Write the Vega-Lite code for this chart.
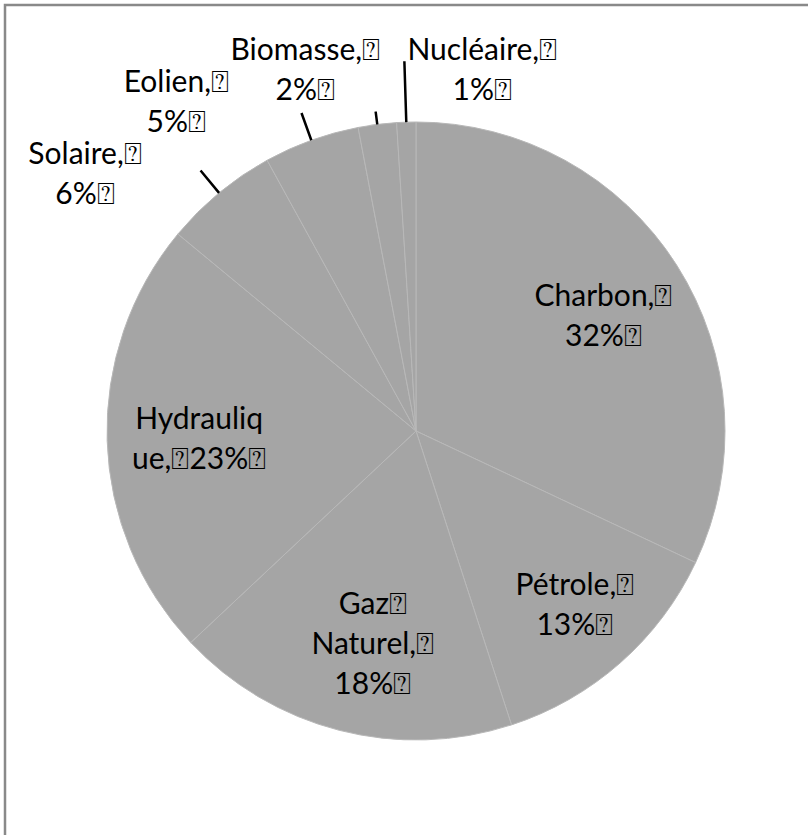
{
  "$schema": "https://vega.github.io/schema/vega-lite/v6.json",
  "width": 822,
  "height": 852,
  "padding": 5,
  "autosize": {"type": "none"},
  "background": "white",
  "config": {
    "view": {"stroke": null},
    "text": {"font": "Lato", "fontSize": 30, "lineHeight": 40, "lineBreak": "\n", "align": "center", "baseline": "middle", "color": "black"}
  },
  "datasets": {
    "energy": [
      {"idx": 1, "name": "Charbon", "label": "Charbon,⍰\n32%⍰", "value": 32},
      {"idx": 2, "name": "Pétrole", "label": "Pétrole,⍰\n13%⍰", "value": 13},
      {"idx": 3, "name": "Gaz Naturel", "label": "Gaz⍰\nNaturel,⍰\n18%⍰", "value": 18},
      {"idx": 4, "name": "Hydraulique", "label": "Hydrauliq\nue,⍰23%⍰", "value": 23},
      {"idx": 5, "name": "Solaire", "label": "Solaire,⍰\n6%⍰", "value": 6},
      {"idx": 6, "name": "Eolien", "label": "Eolien,⍰\n5%⍰", "value": 5},
      {"idx": 7, "name": "Biomasse", "label": "Biomasse,⍰\n2%⍰", "value": 2},
      {"idx": 8, "name": "Nucléaire", "label": "Nucléaire,⍰\n1%⍰", "value": 1}
    ],
    "frame": [{"frame": "border"}]
  },
  "data": {"name": "energy"},
  "layer": [
    {
      "data": {"name": "frame"},
      "mark": {"type": "rect", "fill": null, "stroke": "#898989", "strokeWidth": 2.5},
      "encoding": {}
    },
    {
      "mark": {"type": "arc", "radius": 309, "fill": "#A5A5A5", "stroke": "#B8B8B8", "strokeWidth": 1},
      "encoding": {
        "theta": {"field": "value", "type": "quantitative", "stack": true},
        "order": {"field": "idx", "type": "quantitative"}
      }
    },
    {
      "mark": {"type": "arc", "radius": 370, "radius2": 309, "padAngle": 3, "fill": null, "stroke": "black", "strokeWidth": 2.5},
      "encoding": {
        "theta": {"field": "value", "type": "quantitative", "stack": true},
        "order": {"field": "idx", "type": "quantitative"},
        "strokeOpacity": {"condition": {"test": "datum.name === 'Nucléaire'", "value": 1}, "value": 0}
      }
    },
    {
      "mark": {"type": "arc", "radius": 338, "radius2": 309, "padAngle": 3, "fill": null, "stroke": "black", "strokeWidth": 2.5},
      "encoding": {
        "theta": {"field": "value", "type": "quantitative", "stack": true},
        "order": {"field": "idx", "type": "quantitative"},
        "strokeOpacity": {"condition": {"test": "datum.name === 'Solaire' || datum.name === 'Eolien'", "value": 1}, "value": 0}
      }
    },
    {
      "mark": {"type": "arc", "radius": 322, "radius2": 309, "padAngle": 3, "fill": null, "stroke": "black", "strokeWidth": 2.5},
      "encoding": {
        "theta": {"field": "value", "type": "quantitative", "stack": true},
        "order": {"field": "idx", "type": "quantitative"},
        "strokeOpacity": {"condition": {"test": "datum.name === 'Biomasse'", "value": 1}, "value": 0}
      }
    },
    {
      "mark": {"type": "text", "radius": 222, "dy": -15},
      "encoding": {
        "theta": {"field": "value", "type": "quantitative", "stack": true},
        "order": {"field": "idx", "type": "quantitative"},
        "text": {"condition": {"test": "datum.name === 'Charbon'", "field": "label"}, "value": ""}
      }
    },
    {
      "mark": {"type": "text", "radius": 222, "dx": 12, "dy": -12},
      "encoding": {
        "theta": {"field": "value", "type": "quantitative", "stack": true},
        "order": {"field": "idx", "type": "quantitative"},
        "text": {"condition": {"test": "datum.name === 'Pétrole'", "field": "label"}, "value": ""}
      }
    },
    {
      "mark": {"type": "text", "radius": 222, "dx": 12, "dy": -41},
      "encoding": {
        "theta": {"field": "value", "type": "quantitative", "stack": true},
        "order": {"field": "idx", "type": "quantitative"},
        "text": {"condition": {"test": "datum.name === 'Gaz Naturel'", "field": "label"}, "value": ""}
      }
    },
    {
      "mark": {"type": "text", "radius": 222, "dx": 5, "dy": -18},
      "encoding": {
        "theta": {"field": "value", "type": "quantitative", "stack": true},
        "order": {"field": "idx", "type": "quantitative"},
        "text": {"condition": {"test": "datum.name === 'Hydraulique'", "field": "label"}, "value": ""}
      }
    },
    {
      "mark": {"type": "text", "radius": 309, "dx": -134, "dy": -38},
      "encoding": {
        "theta": {"field": "value", "type": "quantitative", "stack": true},
        "order": {"field": "idx", "type": "quantitative"},
        "text": {"condition": {"test": "datum.name === 'Solaire'", "field": "label"}, "value": ""}
      }
    },
    {
      "mark": {"type": "text", "radius": 309, "dx": -135, "dy": -57},
      "encoding": {
        "theta": {"field": "value", "type": "quantitative", "stack": true},
        "order": {"field": "idx", "type": "quantitative"},
        "text": {"condition": {"test": "datum.name === 'Eolien'", "field": "label"}, "value": ""}
      }
    },
    {
      "mark": {"type": "text", "radius": 309, "dx": -72, "dy": -73},
      "encoding": {
        "theta": {"field": "value", "type": "quantitative", "stack": true},
        "order": {"field": "idx", "type": "quantitative"},
        "text": {"condition": {"test": "datum.name === 'Biomasse'", "field": "label"}, "value": ""}
      }
    },
    {
      "mark": {"type": "text", "radius": 309, "dx": 76, "dy": -71},
      "encoding": {
        "theta": {"field": "value", "type": "quantitative", "stack": true},
        "order": {"field": "idx", "type": "quantitative"},
        "text": {"condition": {"test": "datum.name === 'Nucléaire'", "field": "label"}, "value": ""}
      }
    }
  ]
}
